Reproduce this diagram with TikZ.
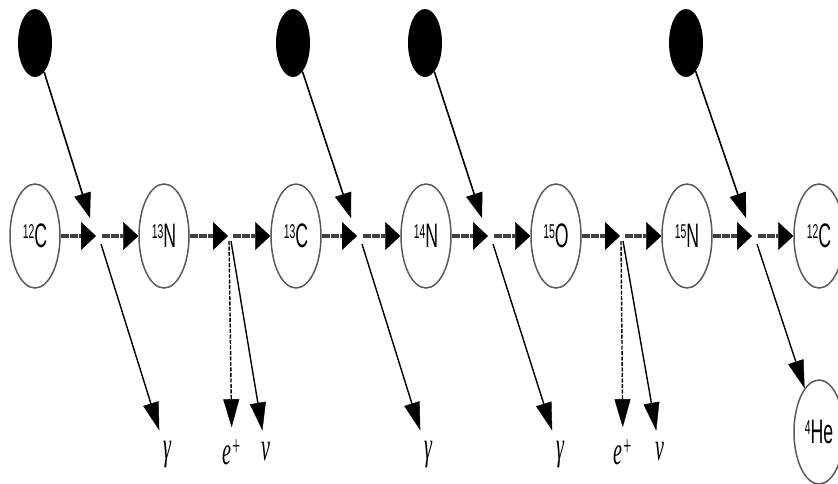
\documentclass[tikz,border=0pt]{standalone}
\usepackage{fontspec}
\usepackage{graphicx}
\usetikzlibrary{shapes.geometric,arrows.meta}
\newfontfamily\nucfont[FakeStretch=0.52]{Liberation Sans}
\newfontfamily\lblfont[FakeStretch=0.5]{Liberation Serif}
% mass number raised to the cap height of the element symbol
\newcommand\isotope[2]{\raisebox{9pt}{\fontsize{20}{20}\selectfont #1}#2}

\begin{document}
\begin{tikzpicture}[x=1pt,y=-1pt,
  nucleus/.style={ellipse, draw=black!65, line width=1.5pt, minimum width=50pt,
    minimum height=104pt, inner sep=0pt, font=\nucfont\fontsize{34}{34}\selectfont},
  proton/.style={ellipse, fill=black, minimum width=34pt, minimum height=68pt, inner sep=0pt},
  product/.style={inner sep=0pt, font=\lblfont\itshape\fontsize{40}{40}\selectfont},
  chain/.style={line width=4.5pt, draw=black!75, dash pattern=on 8pt off 1.2pt,
    -{Triangle[length=15pt,width=28pt,line width=0.4pt,color=black]}},
  capture/.style={line width=1.6pt, -{Triangle[length=25pt,width=17pt,line width=0.4pt]}},
  emitto/.style={line width=1.4pt, -{Triangle[length=28pt,width=16pt,line width=0.4pt]}},
  emit/.style={emitto, shorten >=12pt},
  positron/.style={emit, dash pattern=on 4pt off 1.5pt},
  gap/.style={white, line width=2.5pt}]

\useasboundingbox (0,0) rectangle (838,483);
\clip (0,0) rectangle (838,483);

% nuclei of the cycle
\node[nucleus] (c12a) at (35,236)  {\isotope{12}{C}};
\node[nucleus] (n13)  at (164,236) {\isotope{13}{N}};
\node[nucleus] (c13)  at (296,236) {\isotope{13}{C}};
\node[nucleus] (n14)  at (426,236) {\isotope{14}{N}};
\node[nucleus] (o15)  at (556,236) {\isotope{15}{O}};
\node[nucleus] (n15)  at (687,236) {\isotope{15}{N}};
\node[nucleus] (c12b) at (819,236) {\isotope{12}{C}};
\node[nucleus] (he4)  at (819,432) {\isotope{4}{He}};

% incoming protons
\node[proton] (p1) at (35,43)  {};
\node[proton] (p2) at (293,43) {};
\node[proton] (p3) at (425,43) {};
\node[proton] (p4) at (686,43) {};

% capture and decay points on the chain
\coordinate (j1) at (96,236);
\coordinate (j2) at (357,236);
\coordinate (j3) at (488,236);
\coordinate (j4) at (752,236);
\coordinate (d1) at (228,236);
\coordinate (d2) at (620,236);

% emitted particles
\node[product] (g1)  at (167,455) {γ};
\node[product] (e1)  at (232,452) {e\textsuperscript{+}};
\node[product] (nu1) at (266,452) {ν};
\node[product] (g2)  at (428,455) {γ};
\node[product] (g3)  at (560,455) {γ};
\node[product] (e2)  at (623,452) {e\textsuperscript{+}};
\node[product] (nu2) at (660,452) {ν};

% main chain
\draw[chain] (c12a) -- (j1);
\draw[chain] ([xshift=6pt]j1) -- (n13);
\draw[chain] (n13) -- (d1);
\draw[chain] ([xshift=5pt]d1) -- (c13);
\draw[chain] (c13) -- (j2);
\draw[chain] ([xshift=6pt]j2) -- (n14);
\draw[chain] (n14) -- (j3);
\draw[chain] ([xshift=6pt]j3) -- (o15);
\draw[chain] (o15) -- (d2);
\draw[chain] ([xshift=5pt]d2) -- (n15);
\draw[chain] (n15) -- (j4);
\draw[chain] ([xshift=6pt]j4) -- (c12b);

% proton captures
\foreach \i in {1,2,3,4}{
  \draw[capture] (p\i) -- ([shift={(-6,-18)}]j\i);
  \draw[gap] ([shift={(-5,-18)}]j\i) -- ([shift={(4,6)}]j\i);
}

% gamma emission
\draw[emit] ([shift={(5,8)}]j1) -- (g1);
\draw[emit] ([shift={(5,8)}]j2) -- (g2);
\draw[emit] ([shift={(5,8)}]j3) -- (g3);

% beta decays
\draw[positron] ([shift={(1,5)}]d1) -- (e1);
\draw[emit] ([shift={(3,5)}]d1) -- (nu1);
\draw[positron] ([shift={(1,5)}]d2) -- (e2);
\draw[emit] ([shift={(3,5)}]d2) -- (nu2);

% alpha release closing the cycle
\draw[emitto] ([shift={(5,8)}]j4) -- (he4);
\end{tikzpicture}
\end{document}
